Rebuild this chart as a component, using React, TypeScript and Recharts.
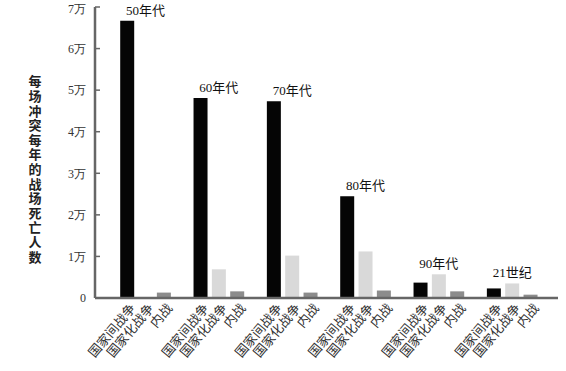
import React from "react";
import { BarChart, Bar, XAxis, YAxis, Cell, ReferenceDot } from "recharts";

const decades = ["50年代", "60年代", "70年代", "80年代", "90年代", "21世纪"];
const warTypes = ["国家间战争", "国家化战争", "内战"];
const interstate = [66700, 48100, 47300, 24500, 3700, 2300];
const internationalized = [0, 6900, 10200, 11200, 5700, 3500];
const civil = [1300, 1600, 1300, 1800, 1600, 800];
const yTicks = [0, 10000, 20000, 30000, 40000, 50000, 60000, 70000];
const yTitle = "每场冲突每年的战场死亡人数";

const colors = ["#050505", "#d9d9d9", "#8c8c8c"];
const axisColor = "#666666";

// one slot per bar plus an empty slot after each decade
const slots: { key: string; name: string; value: number | null; type: number }[] = [];
decades.forEach((d, i) => {
  const vals = [interstate[i], internationalized[i], civil[i]];
  warTypes.forEach((t, j) => {
    slots.push({ key: d + "-" + j, name: t, value: vals[j], type: j });
  });
  slots.push({ key: d + "-gap", name: "", value: null, type: -1 });
});

const names: Record<string, string> = {};
slots.forEach((s) => (names[s.key] = s.name));

function XTick(props: any) {
  const { x, y, payload } = props;
  const label = names[payload.value];
  if (!label) return null;
  return (
    <g transform={`translate(${x + 5},${y - 1})`}>
      <text
        transform="rotate(-50)"
        textAnchor="end"
        dominantBaseline="central"
        fontSize={13}
        fill="#333"
        fontFamily="'Noto Sans CJK SC', sans-serif"
      >
        {label}
      </text>
    </g>
  );
}

function YTitle() {
  return (
    <text
      x={35}
      y={75}
      textAnchor="start"
      fontSize={13}
      fontWeight="bold"
      fill="#222"
      fontFamily="'Noto Sans CJK SC', sans-serif"
      style={{ writingMode: "vertical-rl", letterSpacing: "1.6px" }}
    >
      {yTitle}
    </text>
  );
}

export default function App() {
  return (
    <div style={{ position: "absolute", left: 0, top: 0, background: "#fff" }}>
      <BarChart
        width={566}
        height={371}
        data={slots}
        margin={{ top: 7, right: 8, bottom: 0, left: 0 }}
        barCategoryGap="12%"
      >
        <XAxis
          dataKey="key"
          interval={0}
          tickLine={false}
          tick={<XTick />}
          height={73}
          padding={{ left: 23, right: 0 }}
          axisLine={{ stroke: axisColor, strokeWidth: 2.5 }}
        />
        <YAxis
          domain={[0, 70000]}
          ticks={yTicks}
          width={95}
          tickSize={-5}
          tickMargin={14}
          tickFormatter={(v: number) => (v === 0 ? "0" : v / 10000 + "万")}
          tick={{ fill: "#333", fontSize: 12, fontFamily: "'Liberation Serif', serif" }}
          axisLine={{ stroke: axisColor, strokeWidth: 2.5 }}
          tickLine={{ stroke: axisColor, strokeWidth: 1.5 }}
          label={{ content: () => <YTitle /> }}
        />
        <Bar dataKey="value" isAnimationActive={false}>
          {slots.map((s, i) => (
            <Cell key={i} fill={s.type >= 0 ? colors[s.type] : "none"} />
          ))}
        </Bar>
        {decades.map((d, i) => (
          <ReferenceDot
            key={d}
            x={d + "-1"}
            y={Math.max(interstate[i], internationalized[i], civil[i])}
            r={0}
            stroke="none"
            fill="none"
            ifOverflow="visible"
            label={{
              value: d,
              position: "top",
              offset: 6,
              fontSize: 13,
              fill: "#111",
              fontFamily: "'Liberation Serif', 'Noto Sans CJK SC', serif",
            }}
          />
        ))}
      </BarChart>
    </div>
  );
}
